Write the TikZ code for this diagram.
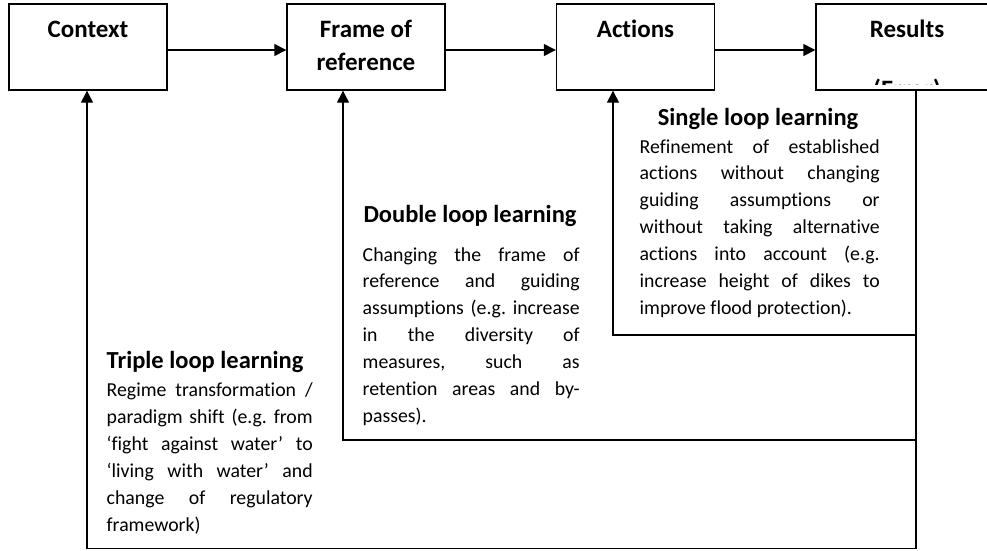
\documentclass[tikz,border=0pt]{standalone}
\usepackage{fontspec}
\setmainfont{Carlito}[Ligatures=NoCommon]
\usetikzlibrary{arrows.meta}
\hyphenpenalty=10000
\frenchspacing
\tikzset{
	stage/.style={
		draw,
		rectangle,
		inner sep=0pt,
		minimum width=158pt,
		minimum height=86pt,
		text height=33pt,
		text depth=53pt,
		align=center,
		font=\bfseries\fontsize{25}{33}\selectfont
	},
	flow/.style={
		-{Triangle[length=12pt,width=12pt]}
	},
	feedback/.style={
		-{Triangle[length=12pt,width=12pt]}
	},
	looptitle/.style={
		inner sep=0pt,
		font=\bfseries\fontsize{24.5}{28}\selectfont
	},
	loopbody/.style={
		inner sep=0pt,
		align=justify,
		font=\fontsize{19.8}{26.9}\selectfont
	},
}

\begin{document}
\begin{tikzpicture}[x=1pt,y=-1pt,line width=1.4pt]
		\useasboundingbox (0,0) rectangle (987,550);
		\clip (0,0) rectangle (987,550);

		\node[stage] (context) at (88,47) {Context};
		\node[stage,text height=66pt,text depth=20pt] (frame) at (366,47) {Frame of\\reference};
		\node[stage] (actions) at (635.5,47) {Actions};
		\node[stage,minimum width=182pt] (results) at (907,47) {Results};
		\begin{scope}
			\clip (817,5) rectangle (987,84);
			\node[inner sep=0pt,anchor=base,font=\bfseries\fontsize{25}{33}\selectfont] (error) at (907,97) {(Error)};
		\end{scope}

		\coordinate (rx) at (916,0);
		\coordinate (sl) at (613,335);
		\coordinate (dl) at (343,440);
		\coordinate (tl) at (87,548.5);

		\node[looptitle,anchor=base] (single) at (758,125) {Single loop learning};
		\node[loopbody,anchor=base west,text width=240pt] (singletext) at (639,153) {Refinement of established\linebreak actions without changing\linebreak guiding assumptions or\linebreak without taking alternative\linebreak actions into account (e.g.\linebreak increase height of dikes to\linebreak improve flood protection).};

		\node[looptitle,anchor=base] (double) at (470,222) {Double loop learning};
		\node[loopbody,anchor=base west,text width=217pt] (doubletext) at (362,261) {Changing the frame of\linebreak reference and guiding\linebreak assumptions (e.g. increase\linebreak in the diversity of\linebreak measures, such as\linebreak retention areas and by-\linebreak passes).};

		\node[looptitle,anchor=base west] (triple) at (106,368) {Triple loop learning};
		\node[loopbody,anchor=base west,text width=206pt] (tripletext) at (106,396.5) {Regime transformation /\linebreak paradigm shift (e.g. from\linebreak ‘fight against water’ to\linebreak ‘living with water’ and\linebreak change of regulatory\linebreak framework)};

		\draw[flow] ([yshift=-3pt]context.east) -- ([yshift=-3pt]frame.west);
		\draw[flow] ([yshift=-3pt]frame.east) -- ([yshift=-3pt]actions.west);
		\draw[flow] ([yshift=-3pt]actions.east) -- ([yshift=-3pt]results.west);

		\draw[feedback] (rx |- results.south) |- (sl) -- (actions.south -| sl);
		\draw[feedback] (rx |- results.south) |- (dl) -- (frame.south -| dl);
		\draw[feedback] (rx |- results.south) |- (tl) -- (context.south -| tl);

	\end{tikzpicture}
\end{document}
